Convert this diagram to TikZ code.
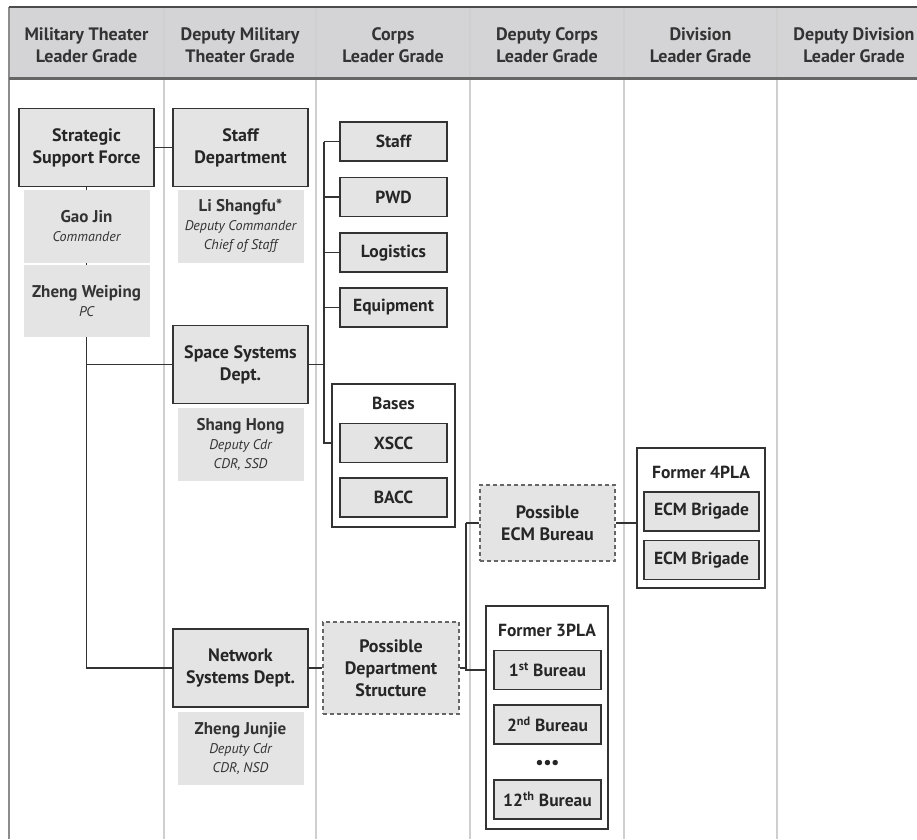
\documentclass[tikz,border=0pt]{standalone}
\usepackage{fontspec}
\setmainfont{PT Sans}
\usetikzlibrary{positioning, backgrounds}
\definecolor{boxgray}{HTML}{E4E4E4}
\definecolor{headgray}{HTML}{D4D4D6}
\definecolor{rulegray}{HTML}{CFCFCF}
\definecolor{inkgray}{HTML}{333333}
\newcommand{\roleline}[1]{{\mdseries\itshape\fontsize{14}{18}\selectfont #1}}
\tikzset{
  grade/.style    = {align=center, font=\fontsize{18}{22}\selectfont\bfseries, text=inkgray},
  dept/.style     = {rectangle, draw=inkgray, line width=1.8pt, fill=boxgray, align=center,
                     minimum width=135pt, minimum height=78pt, inner sep=2pt,
                     font=\fontsize{18}{22}\selectfont\bfseries, text=black!85},
  notional/.style = {dept, draw=black!60, line width=1.4pt, dash pattern=on 4pt off 3pt},
  office/.style   = {rectangle, draw=inkgray, line width=1.6pt, fill=boxgray,
                     minimum width=107pt, minimum height=39pt, inner sep=1pt,
                     font=\fontsize{17.5}{20}\selectfont\bfseries, text=black!85},
  person/.style   = {rectangle, fill=boxgray, align=center, minimum width=126pt,
                     minimum height=73pt, inner sep=1pt,
                     font=\fontsize{17}{19}\selectfont\bfseries, text=inkgray},
  bundle/.style   = {rectangle, draw=inkgray, line width=1.4pt, fill=white},
  caption/.style  = {font=\fontsize{17.5}{20}\selectfont\bfseries, text=black!85},
  conn/.style     = {draw=inkgray, line width=1.5pt},
  colrule/.style  = {draw=rulegray, line width=1.8pt},
}

\begin{document}
\begin{tikzpicture}[x=1pt, y=-1pt]
\useasboundingbox (0,0) rectangle (917,839);

% Grade header and column rules
\begin{scope}[on background layer]
\fill[headgray] (9,7) rectangle (917,78);
\foreach \x in {164,316,470,624,777}
  \draw[colrule] (\x,7) -- (\x,839);
\draw[draw=black!45, line width=2pt] (9,7) -- (9,839);
\draw[draw=black!70, line width=2.4pt] (9,7) -- (917,7);
\draw[draw=black!60, line width=3pt] (9,78) -- (917,78);
\end{scope}
\foreach \i/\x/\t in {1/86.5/{Military Theater\\Leader Grade}, 2/240/{Deputy Military\\Theater Grade},
    3/393/{Corps\\Leader Grade}, 4/547/{Deputy Corps\\Leader Grade},
    5/700.5/{Division\\Leader Grade}, 6/854/{Deputy Division\\Leader Grade}}
  \node (grade\i) [grade] at (\x,45) {\t};

% Military theater column
\node (ssf) [dept] at (86.5,147.5) {Strategic\\Support Force};
\node (gao) [person, below=2pt of ssf] {Gao Jin\\\roleline{Commander}};
\node (zwp) [person, below=2pt of gao, minimum height=72pt] {Zheng Weiping\\\roleline{PC}};

% Deputy military theater column
\node (staffdept) [dept] at (240.5,147.5) {Staff\\Department};
\node (lsf) [person, below=2pt of staffdept] {Li Shangfu*\\\roleline{Deputy Commander}\\\roleline{Chief of Staff}};
\node (ssd) [dept] at (240.5,364.5) {Space Systems\\Dept.};
\node (shh) [person, below=3pt of ssd] {Shang Hong\\\roleline{Deputy Cdr}\\\roleline{CDR, SSD}};
\node (nsd) [dept] at (240.5,668) {Network\\Systems Dept.};
\node (zjj) [person, below=4pt of nsd] {Zheng Junjie\\\roleline{Deputy Cdr}\\\roleline{CDR, NSD}};

% Corps column
\node (staff) [office] at (393.5,141.5) {Staff};
\node (pwd) [office, below=15pt of staff] {PWD};
\node (logi) [office, below=15pt of pwd] {Logistics};
\node (equip) [office, below=14pt of logi] {Equipment};
\node (bases) [bundle, minimum width=123pt, minimum height=143pt] at (393.5,455.5) {};
\node (baseslab) [caption] at (393.5,403) {Bases};
\node (xscc) [office] at (393.5,443) {XSCC};
\node (bacc) [office, below=14pt of xscc] {BACC};
\node (pds) [notional, minimum width=136pt, minimum height=92pt] at (391,668) {Possible\\Department\\Structure};

% Deputy corps column
\node (ecmb) [notional, minimum height=76pt] at (547.5,523) {Possible\\ECM Bureau};
\node (pla3) [bundle, minimum width=122pt, minimum height=223pt] at (547,717.5) {};
\node (pla3lab) [caption] at (547,630) {Former 3PLA};
\node (bu1) [office] at (547.5,670) {1\textsuperscript{st} Bureau};
\node (bu2) [office, below=14pt of bu1] {2\textsuperscript{nd} Bureau};
\node (bdots) [caption] at (547.5,764) {\textbullet\textbullet\textbullet};
\node (bu12) [office] at (547.5,799.5) {12\textsuperscript{th} Bureau};

% Division column
\node (pla4) [bundle, minimum width=128pt, minimum height=140pt] at (701,518) {};
\node (pla4lab) [caption] at (701,472) {Former 4PLA};
\node (brig1) [office, minimum width=115pt] at (701.5,511.5) {ECM Brigade};
\node (brig2) [office, minimum width=115pt, below=8pt of brig1] {ECM Brigade};

% Links
\begin{scope}[on background layer]
\draw[conn] (ssf) -- (staffdept);
\draw[conn] (ssf.south) |- (nsd.west);
\draw[conn] (ssf.south |- ssd.west) -- (ssd.west);
\coordinate (ctrunk) at (324,366);
\draw[conn] (ssd.east) -- (ssd.east -| ctrunk);
\draw[conn] (staff.west -| ctrunk) -- (xscc.west -| ctrunk) -- (xscc.west -| bases.west);
\foreach \u in {staff,pwd,logi,equip}
  \draw[conn] (\u.west -| ctrunk) -- (\u.west);
\draw[conn] (nsd) -- (pds);
\coordinate (dtrunk) at (466,668);
\draw[conn] (pds.east) -- (dtrunk);
\draw[conn] (ecmb.west -| dtrunk) -- (bu1.west -| dtrunk) -- (bu1.west -| pla3.west);
\draw[conn] (ecmb.west -| dtrunk) -- (ecmb.west);
\draw[conn] (ecmb.east) -- (ecmb.east -| pla4.west);
\end{scope}

\end{tikzpicture}
\end{document}
